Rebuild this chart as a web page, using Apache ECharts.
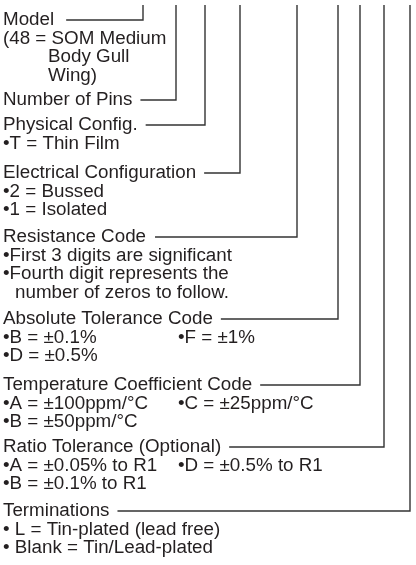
<!DOCTYPE html>
<html>
<head>
<meta charset="utf-8">
<script src="https://cdn.jsdelivr.net/npm/echarts@6/dist/echarts.min.js"></script>
<style>
  html, body { margin: 0; padding: 0; background: #fff; }
  #chart { width: 416px; height: 565px; }
</style>
</head>
<body>
<div id="chart"></div>
<script>
// part-number fields, top to bottom
const fieldTitles = [
  "Model",
  "Number of Pins",
  "Physical Config.",
  "Electrical Configuration",
  "Resistance Code",
  "Absolute Tolerance Code",
  "Temperature Coefficient Code",
  "Ratio Tolerance (Optional)",
  "Terminations"
];

// notes under each field, left column
const noteLeft = [
  ["(48 = SOM Medium", "Body Gull", "Wing)"],
  [],
  ["•T = Thin Film"],
  ["•2 = Bussed", "•1 = Isolated"],
  ["•First 3 digits are significant", "•Fourth digit represents the", "number of zeros to follow."],
  ["•B = ±0.1%", "•D = ±0.5%"],
  ["•A = ±100ppm/°C", "•B = ±50ppm/°C"],
  ["•A = ±0.05% to R1", "•B = ±0.1% to R1"],
  ["• L = Tin-plated (lead free)", "• Blank = Tin/Lead-plated"]
];

// notes, right column (first row only)
const noteRight = [[], [], [], [], [], ["•F = ±1%"], ["•C = ±25ppm/°C"], ["•D = ±0.5% to R1"], []];

// layout (pixels)
const leaderX = [143, 176, 205, 240, 297, 338, 360, 384, 410];
const rowY = [20, 100, 125, 173, 237, 319, 385, 447, 511];
const noteIndent = [[3, 48, 48], [], [3], [3, 3], [3, 3, 15], [3, 3], [3, 3], [3, 3], [3, 3]];
const titleGap = [12, 8, 8, 8, 9, 8, 8, 8, 8];
const rightColX = 178;
const topY = 5;

const FONT = '18.8px "Liberation Sans", Arial, sans-serif';
const TEXT_COLOR = "#231f20";
const LINE_COLOR = "#333";

const measureCtx = document.createElement("canvas").getContext("2d");
measureCtx.font = FONT;

function renderItem(params, api) {
  const i = params.dataIndex;
  const y0 = rowY[i];
  const children = [];

  const tp = api.coord([3, y0]);
  children.push({
    type: "text",
    style: { text: fieldTitles[i], x: tp[0], y: tp[1], font: FONT, fill: TEXT_COLOR, verticalAlign: "middle" }
  });

  noteLeft[i].forEach((line, k) => {
    const p = api.coord([noteIndent[i][k], y0 + 19 + k * 18.2]);
    children.push({
      type: "text",
      style: { text: line, x: p[0], y: p[1], font: FONT, fill: TEXT_COLOR, verticalAlign: "middle" }
    });
  });
  noteRight[i].forEach((line, k) => {
    const p = api.coord([rightColX, y0 + 19 + k * 18.2]);
    children.push({
      type: "text",
      style: { text: line, x: p[0], y: p[1], font: FONT, fill: TEXT_COLOR, verticalAlign: "middle" }
    });
  });

  const w = measureCtx.measureText(fieldTitles[i]).width;
  children.push({
    type: "polyline",
    shape: {
      points: [
        api.coord([3 + w + titleGap[i], y0]),
        api.coord([leaderX[i], y0]),
        api.coord([leaderX[i], topY])
      ]
    },
    style: { stroke: LINE_COLOR, lineWidth: 1.4, fill: null }
  });

  return { type: "group", children: children };
}

const chart = echarts.init(document.getElementById("chart"));
chart.setOption({
  animation: false,
  grid: { left: 0, right: 0, top: 0, bottom: 0 },
  xAxis: { type: "value", min: 0, max: 416, show: false },
  yAxis: { type: "value", min: 0, max: 565, inverse: true, show: false },
  series: [
    {
      type: "custom",
      clip: false,
      renderItem: renderItem,
      encode: { x: 0, y: 1 },
      data: fieldTitles.map((t, i) => [leaderX[i], rowY[i]])
    }
  ]
});
</script>
</body>
</html>
